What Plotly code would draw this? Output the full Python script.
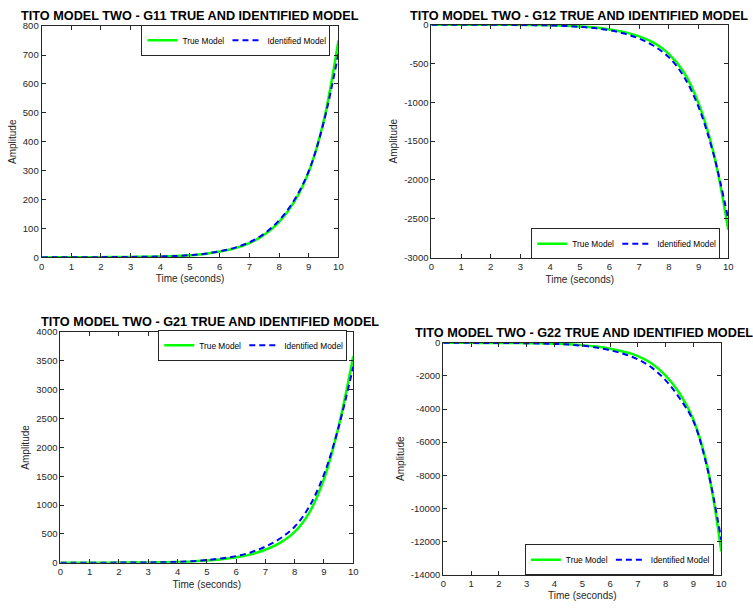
import plotly.graph_objects as go

# ---------------- data ----------------
time_s = [0, 0.5, 1, 1.5, 2, 2.5, 3, 3.5, 4, 4.5, 5, 5.5, 6, 6.5, 7, 7.5, 8, 8.5, 9, 9.5, 10]

g11_true = [0, 0.1, 0.3, 0.5, 0.8, 1.1, 1.5, 2.1, 3, 4.6, 7.5, 12, 20, 31, 49, 78, 122, 190, 295, 470, 750]
g11_ident = [0, 0.1, 0.3, 0.5, 0.8, 1.1, 1.5, 2.1, 3, 4.7, 7.8, 12.5, 21, 33, 52, 82, 128, 196, 298, 465, 705]

g12_true = [0, -0.3, -0.7, -1.1, -1.6, -2.3, -3.3, -5, -8, -14, -24, -38, -62, -96, -150, -235, -375, -610, -1010, -1640, -2640]
g12_ident = [0, -0.3, -0.7, -1.2, -1.8, -2.6, -3.8, -6, -9.5, -16, -28, -44, -72, -115, -180, -275, -420, -665, -1060, -1660, -2500]

g21_true = [0, 0.5, 1, 1.6, 2.4, 3.5, 5, 8, 13, 22, 40, 62, 95, 145, 225, 345, 535, 870, 1450, 2360, 3580]
g21_ident = [0, 0.5, 1, 1.7, 2.6, 3.8, 5.5, 9, 15, 26, 47, 75, 115, 180, 280, 420, 625, 975, 1530, 2350, 3400]

g22_true = [0, -2, -4, -6, -9, -13, -20, -32, -55, -85, -140, -230, -356, -540, -800, -1250, -1980, -3050, -4650, -7500, -12600]
g22_ident = [0, -2, -4, -6, -10, -15, -23, -38, -65, -105, -175, -290, -450, -680, -1000, -1500, -2270, -3350, -4750, -7600, -11900]

titles = [
    "TITO MODEL TWO - G11 TRUE AND IDENTIFIED MODEL",
    "TITO MODEL TWO - G12 TRUE AND IDENTIFIED MODEL",
    "TITO MODEL TWO - G21 TRUE AND IDENTIFIED MODEL",
    "TITO MODEL TWO - G22 TRUE AND IDENTIFIED MODEL",
]
x_ticks = [0, 1, 2, 3, 4, 5, 6, 7, 8, 9, 10]
y_ticks = [
    [0, 100, 200, 300, 400, 500, 600, 700, 800],
    [-3000, -2500, -2000, -1500, -1000, -500, 0],
    [0, 500, 1000, 1500, 2000, 2500, 3000, 3500, 4000],
    [-14000, -12000, -10000, -8000, -6000, -4000, -2000, 0],
]
y_ranges = [[0, 800], [-3000, 0], [0, 4000], [-14000, 0]]
x_label = "Time (seconds)"
y_label = "Amplitude"
names = ["True Model", "Identified Model"]

series = [(g11_true, g11_ident), (g12_true, g12_ident), (g21_true, g21_ident), (g22_true, g22_ident)]

# ---------------- layout geometry ----------------
W, H = 753, 609
px_boxes = [  # left, right, top, bottom in pixels
    (39, 339, 20.5, 256),
    (433, 733, 19, 256.3),
    (58, 354, 332, 567),
    (445, 726, 343, 579),
]
title_pos = [(189, 10), (582, 10), (209, 321.5), (587, 333)]
legend_pos = [  # right edge x, vertical centre y
    (331, 35),
    (725, 242),
    (348, 345.5),
    (718.5, 564),
]

FONT = "Arial, Liberation Sans, Helvetica, sans-serif"
AX_COLOR = "#262626"

fig = go.Figure()
layout = dict(
    width=W, height=H,
    margin=dict(l=0, r=0, t=0, b=0),
    paper_bgcolor="white", plot_bgcolor="white",
    font=dict(family=FONT, color=AX_COLOR, size=9),
    annotations=[],
)

for i, (tr, idn) in enumerate(series):
    n = "" if i == 0 else str(i + 1)
    leg = "legend" if i == 0 else f"legend{i + 1}"
    fig.add_trace(go.Scatter(
        x=time_s, y=tr, mode="lines", name=names[0], legendwidth=40,
        line=dict(color="#00ff00", width=2.5, shape="spline", smoothing=1),
        xaxis="x" + n, yaxis="y" + n, legend=leg,
    ))
    fig.add_trace(go.Scatter(
        x=time_s, y=idn, mode="lines", name=names[1], legendwidth=57,
        line=dict(color="#0000ff", width=2, dash="6px,4px", shape="spline", smoothing=1),
        xaxis="x" + n, yaxis="y" + n, legend=leg,
    ))
    l, r, t, b = px_boxes[i]
    common = dict(
        showgrid=False, zeroline=False, showline=True, linecolor=AX_COLOR, linewidth=1,
        mirror="ticks", ticks="inside", ticklen=4, tickcolor=AX_COLOR, tickwidth=1,
        tickfont=dict(family=FONT, size=9.5, color=AX_COLOR),
    )
    layout["xaxis" + n] = dict(
        common, domain=[l / W, r / W], range=[0, 10], anchor="y" + n,
        tickvals=x_ticks, ticktext=[str(v) for v in x_ticks],
        title=dict(text=x_label, font=dict(family=FONT, size=10, color=AX_COLOR), standoff=4),
    )
    layout["yaxis" + n] = dict(
        common, domain=[1 - b / H, 1 - t / H], range=y_ranges[i], anchor="x" + n,
        tickvals=y_ticks[i], ticktext=[str(v) for v in y_ticks[i]],
        title=dict(text=y_label, font=dict(family=FONT, size=10, color=AX_COLOR), standoff=4),
    )
    tx, ty = title_pos[i]
    layout["annotations"].append(dict(
        text="<b>" + titles[i] + "</b>", x=tx / W, y=1 - ty / H, xref="paper", yref="paper",
        xanchor="center", yanchor="middle", showarrow=False,
        font=dict(family=FONT, size=12.7, color="black"),
    ))
    lx, ly = legend_pos[i]
    layout[leg] = dict(
        x=lx / W, y=1 - ly / H, xanchor="right", yanchor="middle", orientation="h",
        bgcolor="white", bordercolor=AX_COLOR, borderwidth=1,
        font=dict(family=FONT, size=8.3, color="black"), itemwidth=30,
        tracegroupgap=0, itemclick=False,
    )

fig.update_layout(**layout)
fig.write_html(
    "out.html",
    config={"displayModeBar": False},
    post_script="document.body.style.margin='0';document.body.style.overflow='hidden';",
)
